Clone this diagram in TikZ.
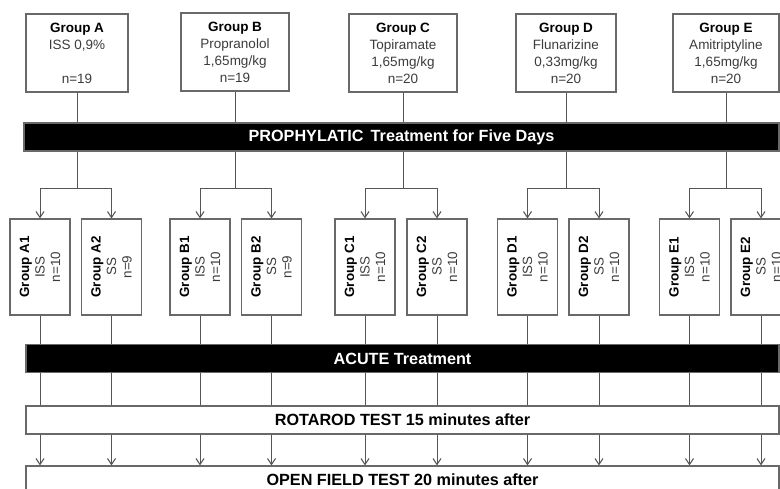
\documentclass[tikz,border=0pt]{standalone}
\usepackage{fontspec}
\setmainfont{Liberation Sans}
\usetikzlibrary{arrows.meta}
\definecolor{lc}{RGB}{85,85,85}
\definecolor{bc}{RGB}{105,105,105}
\definecolor{tc}{RGB}{60,60,60}
\begin{document}
\begin{tikzpicture}[x=1pt,y=-1pt,
  top/.style={draw=bc,line width=1.2pt,fill=white,align=center,inner sep=0pt,font=\fontsize{13.5}{17}\selectfont,text=tc},
  sub/.style={draw=bc,line width=1.2pt,fill=white,minimum width=60pt,minimum height=96pt,inner sep=0pt},
  subtxt/.style={rotate=90,align=center,inner sep=0pt,font=\fontsize{13.4}{15.5}\selectfont,text=tc},
  bar/.style={draw=bc,line width=1.2pt,fill=black,text=white,font=\bfseries\fontsize{16.2}{19}\selectfont,minimum width=753pt,minimum height=28pt,inner sep=0pt},
  wbar/.style={bar,fill=white,text=black},
  ln/.style={draw=lc,line width=1pt},
  arr/.style={ln,-{Straight Barb[length=6pt,width=8pt]}}]
\useasboundingbox (0,0) rectangle (780,489);
\clip (0,0) rectangle (780,489);
% top groups
\node[top,minimum width=102pt,minimum height=78pt] (A) at (77,53) {\textbf{\textcolor{black}{Group A}}\\ISS 0,9\%\\[17pt]n=19};
\node[top,minimum width=108pt,minimum height=78pt] (B) at (235,52) {\textbf{\textcolor{black}{Group B}}\\Propranolol\\1,65mg/kg\\n=19};
\node[top,minimum width=108pt,minimum height=78pt] (C) at (403,53) {\textbf{\textcolor{black}{Group C}}\\Topiramate\\1,65mg/kg\\n=20};
\node[top,minimum width=100pt,minimum height=78pt] (D) at (566,53) {\textbf{\textcolor{black}{Group D}}\\Flunarizine\\0,33mg/kg\\n=20};
\node[top,minimum width=106pt,minimum height=78pt] (E) at (726,53) {\textbf{\textcolor{black}{Group E}}\\Amitriptyline\\1,65mg/kg\\n=20};
% prophylactic bar
\node[bar,minimum width=755pt] (proph) at (401.5,137) {PROPHYLATIC\, Treatment for Five Days};
\coordinate (br) at (0,189);
% sub groups
\foreach \n/\x/\t/\c in {A1/40/ISS/10,A2/111.5/SS/9,B1/200/ISS/10,B2/271.5/SS/9,C1/365/ISS/10,C2/437/SS/10,D1/527.5/ISS/10,D2/599/SS/10,E1/689.5/ISS/10,E2/761/SS/10}{
  \node[sub] (\n) at (\x,267) {};
  \node[subtxt] (\n t) at (\n) {\textbf{\textcolor{black}{Group \n}}\\\t\\n=\c};
}
% acute, rotarod, open field
\node[bar] (acute) at (402.5,358.5) {ACUTE Treatment};
\node[wbar] (rot) at (402.5,420) {ROTAROD TEST 15 minutes after};
\node[wbar] (of) at (402.5,480) {OPEN FIELD TEST 20 minutes after};
% connectors top
\foreach \g in {A,B,C,D,E}{
  \draw[ln] (\g.south) -- (\g.south |- proph.north);
  \coordinate (j\g) at (\g.south |- br);
  \draw[ln] (\g.south |- proph.south) -- (j\g);
  \draw[arr] (j\g) -| (\g1.north);
  \draw[arr] (j\g) -| (\g2.north);
}
% connectors bottom
\foreach \n in {A1,A2,B1,B2,C1,C2,D1,D2,E1,E2}{
  \draw[ln] (\n.south) -- (\n.south |- acute.north);
  \draw[ln] (\n.south |- acute.south) -- (\n.south |- rot.north);
  \draw[arr] (\n.south |- rot.south) -- (\n.south |- of.north);
}
\end{tikzpicture}
\end{document}
